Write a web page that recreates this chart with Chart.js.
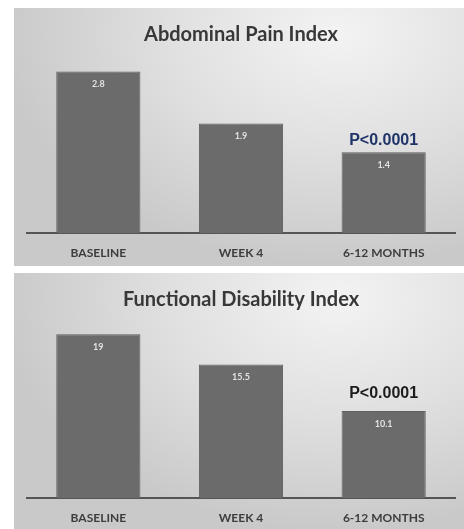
<!DOCTYPE html>
<html lang="en">
<head>
<meta charset="UTF-8">
<title>Abdominal Pain / Functional Disability</title>
<script src="https://cdn.jsdelivr.net/npm/chart.js"></script>
<style>
  html, body { margin: 0; padding: 0; background: #fff; }
  body { width: 464px; height: 529px; position: relative; overflow: hidden; }
  .panel {
    position: absolute; left: 14px; width: 450px; height: 258px;
    background: radial-gradient(ellipse 75% 90% at 72% 10%, #f3f3f3 0%, #e0e0e0 50%, #c9c9c9 100%);
  }
  #p1 { top: 8px; }
  #p2 { top: 273px; }
</style>
</head>
<body>
<div class="panel" id="p1"><canvas id="painChart"></canvas></div>
<div class="panel" id="p2"><canvas id="fdiChart"></canvas></div>
<script>
// time points and mean scores
const categories = ['BASELINE', 'WEEK 4', '6-12 MONTHS'];
const painValues = [2.8, 1.9, 1.4];
const disabilityValues = [19, 15.5, 10.1];
const pLabel = 'P<0.0001';

// writes the value inside the top of each bar, and the p-value over the last one
const barText = {
  id: 'barText',
  afterDatasetsDraw(chart, args, opts) {
    const ctx = chart.ctx;
    const meta = chart.getDatasetMeta(0);
    const vals = chart.data.datasets[0].data;
    ctx.save();
    ctx.textAlign = 'center';
    ctx.textBaseline = 'middle';
    meta.data.forEach((bar, i) => {
      ctx.fillStyle = '#e2e2e2';
      ctx.font = 'bold 9px Lato';
      ctx.fillText(String(vals[i]), bar.x, bar.y + 13);
    });
    const last = meta.data[meta.data.length - 1];
    ctx.fillStyle = opts.color;
    ctx.font = 'bold 16px "Liberation Sans"';
    ctx.fillText(opts.text, last.x, last.y - opts.gap);
    ctx.restore();
  }
};

function makeChart(id, title, values, yMax, pColor, pGap) {
  return new Chart(document.getElementById(id), {
    type: 'bar',
    data: {
      labels: categories,
      datasets: [{
        data: values,
        backgroundColor: '#6b6b6b',
        borderColor: '#5f5f5f',
        borderWidth: 1,
        barPercentage: 0.59,
        categoryPercentage: 1
      }]
    },
    options: {
      responsive: true,
      maintainAspectRatio: false,
      animation: false,
      layout: { padding: { left: 13, right: 9, top: 0, bottom: 0 } },
      plugins: {
        legend: { display: false },
        tooltip: { enabled: false },
        title: {
          display: true,
          text: title,
          color: '#383838',
          font: { family: 'Lato', size: 20, weight: 'bold' },
          padding: { top: 15, bottom: 6 }
        },
        barText: { text: pLabel, color: pColor, gap: pGap }
      },
      scales: {
        x: {
          grid: { display: false, drawTicks: false },
          border: { display: true, color: '#555', width: 2 },
          ticks: {
            color: '#3d3d3d',
            padding: 13,
            font: { family: 'Lato', size: 12, weight: 'bold' }
          },
          afterFit(scale) { scale.height = 33; }
        },
        y: {
          display: false,
          min: 0,
          max: yMax
        }
      }
    },
    plugins: [barText]
  });
}

makeChart('painChart', 'Abdominal Pain Index', painValues, 3.12, '#1f3468', 12);
makeChart('fdiChart', 'Functional Disability Index', disabilityValues, 20.9, '#1c1c1c', 17);
</script>
</body>
</html>
